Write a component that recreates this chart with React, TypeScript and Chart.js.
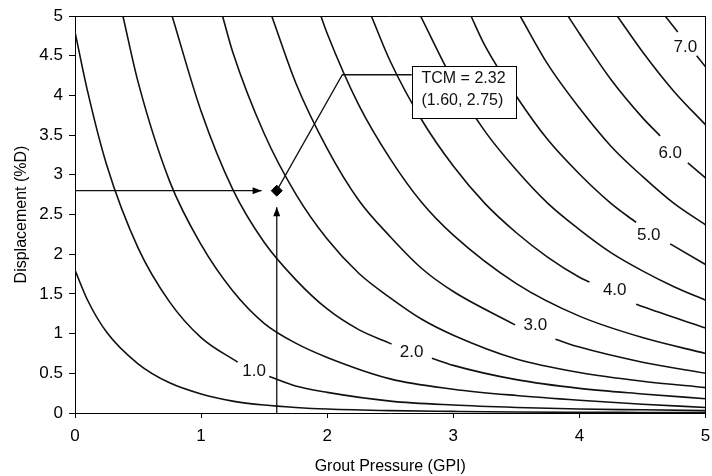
import React, { useEffect, useRef } from 'react';
import { Chart, registerables } from 'chart.js';

Chart.register(...registerables);

// Axis ticks
const xTickValues = [0, 1, 2, 3, 4, 5];
const yTickValues = [0, 0.5, 1, 1.5, 2, 2.5, 3, 3.5, 4, 4.5, 5];

// TCM contour curves (x = Grout Pressure, y = Displacement); null = gap for label
const c05X = [0, 0.1, 0.25, 0.5, 0.75, 1, 1.25, 1.5, 1.75, 2, 2.5, 3, 3.5, 4, 4.5, 5];
const c05Y = [1.8, 1.42, 1.02, 0.62, 0.38, 0.24, 0.15, 0.1, 0.07, 0.05, 0.03, 0.02, 0.012, 0.009, 0.007, 0.005];

const c10X = [0, 0.1, 0.25, 0.5, 0.75, 1, 1.29, 1.42, 1.54, 1.75, 2, 2.5, 3, 3.5, 4, 4.5, 5];
const c10Y = [4.8, 4.05, 3.13, 2.08, 1.4, 0.95, 0.64, null, 0.46, 0.34, 0.26, 0.15, 0.1, 0.07, 0.05, 0.04, 0.03];

const c15X = [0.38, 0.5, 0.75, 1, 1.25, 1.5, 1.75, 2, 2.5, 3, 3.5, 4, 4.5, 5];
const c15Y = [5, 4.17, 2.92, 2.12, 1.54, 1.13, 0.88, 0.7, 0.43, 0.3, 0.22, 0.16, 0.11, 0.07];

const c20X = [0.77, 1, 1.25, 1.5, 1.75, 2, 2.25, 2.51, 2.67, 2.83, 3, 3.5, 4, 4.5, 5];
const c20Y = [5, 3.8, 2.82, 2.15, 1.68, 1.31, 1.05, 0.87, null, 0.69, 0.6, 0.42, 0.31, 0.24, 0.18];

const c25X = [1.17, 1.25, 1.5, 1.75, 2, 2.25, 2.5, 2.75, 3, 3.5, 4, 4.5, 5];
const c25Y = [5, 4.55, 3.52, 2.76, 2.19, 1.76, 1.45, 1.18, 0.98, 0.68, 0.51, 0.4, 0.32];

const c30X = [1.56, 1.75, 2, 2.25, 2.5, 2.75, 3, 3.49, 3.65, 3.81, 4, 4.5, 5];
const c30Y = [5, 4.16, 3.33, 2.68, 2.22, 1.82, 1.53, 1.11, null, 0.93, 0.83, 0.64, 0.5];

const c35X = [1.95, 2, 2.25, 2.5, 2.75, 3, 3.5, 4, 4.5, 5];
const c35Y = [5, 4.78, 3.88, 3.2, 2.65, 2.24, 1.63, 1.22, 0.95, 0.75];

const c40X = [2.35, 2.5, 2.75, 3, 3.25, 3.5, 3.75, 4, 4.08, 4.28, 4.45, 4.5, 5];
const c40Y = [5, 4.43, 3.69, 3.11, 2.64, 2.27, 1.96, 1.71, 1.65, null, 1.37, 1.34, 1.07];

const c45X = [2.74, 3, 3.25, 3.5, 3.75, 4, 4.25, 4.5, 4.75, 5];
const c45Y = [5, 4.18, 3.55, 3.06, 2.64, 2.31, 2.02, 1.79, 1.59, 1.42];

const c50X = [3.14, 3.25, 3.5, 3.75, 4, 4.25, 4.45, 4.55, 4.72, 5];
const c50Y = [5, 4.63, 3.99, 3.44, 3.01, 2.64, 2.4, null, 2.13, 1.87];

const c55X = [3.53, 3.75, 4, 4.25, 4.5, 4.75, 5];
const c55Y = [5, 4.39, 3.84, 3.36, 2.98, 2.64, 2.37];

const c60X = [3.91, 4, 4.25, 4.5, 4.64, 4.72, 4.86, 5];
const c60Y = [5, 4.78, 4.2, 3.72, 3.49, null, 3.15, 2.96];

const c65X = [4.3, 4.5, 4.75, 5];
const c65Y = [5, 4.55, 4.05, 3.63];

const c70X = [4.68, 4.78, 4.84, 4.93, 5];
const c70Y = [5, 4.8, null, 4.5, 4.36];

const curveXs = [c05X, c10X, c15X, c20X, c25X, c30X, c35X, c40X, c45X, c50X, c55X, c60X, c65X, c70X];
const curveYs = [c05Y, c10Y, c15Y, c20Y, c25Y, c30Y, c35Y, c40Y, c45Y, c50Y, c55Y, c60Y, c65Y, c70Y];

// Contour labels
const contourLabelText = ['1.0', '2.0', '3.0', '4.0', '5.0', '6.0', '7.0'];
const contourLabelX = [1.42, 2.67, 3.65, 4.28, 4.55, 4.72, 4.84];
const contourLabelY = [0.53, 0.77, 1.11, 1.55, 2.24, 3.27, 4.61];

// Marked point and guides
const markX = [1.6];
const markY = [2.8];
const hArrowX = [0, 1.48];
const hArrowY = [2.8, 2.8];
const vArrowX = [1.6, 1.6];
const vArrowY = [0, 2.59];
const calloutX = [1.6, 2.12, 2.67];
const calloutY = [2.8, 4.26, 4.26];
const boxX = [2.67, 3.5];
const boxY = [4.37, 3.715];
const boxLines = ['TCM = 2.32', '(1.60, 2.75)'];

const FONT = "'Liberation Sans', Arial, Helvetica, sans-serif";

const pts = (xs: number[], ys: (number | null)[]) => xs.map((x, i) => ({ x, y: ys[i] }));

const annotatePlugin = {
  id: 'annotate',
  afterDatasetsDraw(chart: any) {
    const { ctx, chartArea, scales } = chart;
    const xs = scales.x;
    const ys = scales.y;
    ctx.save();
    // frame (top and right)
    ctx.strokeStyle = '#000';
    ctx.lineWidth = 1;
    ctx.beginPath();
    ctx.moveTo(chartArea.left, Math.round(chartArea.top) + 0.5);
    ctx.lineTo(chartArea.right, Math.round(chartArea.top) + 0.5);
    ctx.moveTo(Math.round(chartArea.right) - 0.5, chartArea.top);
    ctx.lineTo(Math.round(chartArea.right) - 0.5, chartArea.bottom);
    ctx.stroke();

    // arrowheads
    ctx.fillStyle = '#000';
    const hx = xs.getPixelForValue(hArrowX[1]);
    const hy = ys.getPixelForValue(hArrowY[1]);
    ctx.beginPath();
    ctx.moveTo(hx, hy);
    ctx.lineTo(hx - 9, hy - 3.5);
    ctx.lineTo(hx - 9, hy + 3.5);
    ctx.closePath();
    ctx.fill();
    const vx = xs.getPixelForValue(vArrowX[1]);
    const vy = ys.getPixelForValue(vArrowY[1]);
    ctx.beginPath();
    ctx.moveTo(vx, vy);
    ctx.lineTo(vx - 3.5, vy + 9);
    ctx.lineTo(vx + 3.5, vy + 9);
    ctx.closePath();
    ctx.fill();

    // contour labels
    ctx.font = `17px ${FONT}`;
    ctx.fillStyle = '#111';
    ctx.textAlign = 'center';
    ctx.textBaseline = 'middle';
    contourLabelText.forEach((t, i) => {
      ctx.fillText(t, xs.getPixelForValue(contourLabelX[i]), ys.getPixelForValue(contourLabelY[i]));
    });

    // callout box
    const bl = Math.round(xs.getPixelForValue(boxX[0])) + 0.5;
    const br = Math.round(xs.getPixelForValue(boxX[1])) + 0.5;
    const bt = Math.round(ys.getPixelForValue(boxY[0])) + 0.5;
    const bb = Math.round(ys.getPixelForValue(boxY[1])) + 0.5;
    ctx.fillStyle = '#fff';
    ctx.fillRect(bl, bt, br - bl, bb - bt);
    ctx.strokeStyle = '#000';
    ctx.lineWidth = 1;
    ctx.strokeRect(bl, bt, br - bl, bb - bt);
    ctx.font = `16px ${FONT}`;
    ctx.fillStyle = '#111';
    ctx.textAlign = 'left';
    ctx.textBaseline = 'middle';
    ctx.fillText(boxLines[0], bl + 9, bt + 12.5);
    ctx.fillText(boxLines[1], bl + 9, bt + 34.5);
    ctx.restore();
  },
};

export default function App() {
  const ref = useRef<HTMLCanvasElement | null>(null);

  useEffect(() => {
    const canvas = ref.current;
    if (!canvas) return;
    Chart.defaults.font.family = FONT;
    Chart.defaults.color = '#000';

    const curveSets = curveXs.map((xs, i) => ({
      data: pts(xs, curveYs[i]),
      showLine: true,
      borderColor: '#111',
      borderWidth: 1.6,
      pointRadius: 0,
      cubicInterpolationMode: 'monotone',
      spanGaps: false,
      fill: false,
    }));

    const guideStyle = {
      showLine: true,
      borderColor: '#111',
      borderWidth: 1.3,
      pointRadius: 0,
      tension: 0,
      fill: false,
    };

    const chart = new Chart(canvas, {
      type: 'scatter',
      data: {
        datasets: [
          ...curveSets,
          { ...guideStyle, data: pts(hArrowX, hArrowY) },
          { ...guideStyle, data: pts(vArrowX, vArrowY) },
          { ...guideStyle, data: pts(calloutX, calloutY) },
          {
            data: pts(markX, markY),
            showLine: false,
            pointStyle: 'rectRot',
            pointRadius: 5.5,
            pointBackgroundColor: '#000',
            pointBorderColor: '#000',
            pointBorderWidth: 1,
          },
        ] as any,
      },
      options: {
        animation: false,
        responsive: true,
        maintainAspectRatio: false,
        layout: { padding: { top: 16, right: 4, left: 0, bottom: 0 } },
        plugins: { legend: { display: false }, tooltip: { enabled: false } },
        events: [],
        scales: {
          x: {
            type: 'linear',
            min: 0,
            max: 5,
            afterBuildTicks: (s: any) => {
              s.ticks = xTickValues.map((v) => ({ value: v }));
            },
            ticks: {
              color: '#000',
              font: { size: 17 },
              padding: 8,
              maxRotation: 0,
              callback: (v: any) => String(v),
            },
            grid: { display: true, drawOnChartArea: false, drawTicks: true, tickLength: 5, color: '#000' },
            border: { display: true, color: '#000', width: 1 },
            title: {
              display: true,
              text: 'Grout Pressure (GPI)',
              color: '#000',
              font: { size: 16 },
              padding: { top: 0, bottom: 0 },
            },
            afterFit: (s: any) => {
              s.height = 63;
              s.paddingLeft = 0;
              s.paddingRight = 0;
            },
          },
          y: {
            type: 'linear',
            min: 0,
            max: 5,
            afterBuildTicks: (s: any) => {
              s.ticks = yTickValues.map((v) => ({ value: v }));
            },
            ticks: {
              color: '#000',
              font: { size: 17 },
              padding: 6,
              callback: (v: any) => String(v),
            },
            grid: { display: true, drawOnChartArea: false, drawTicks: true, tickLength: 6, color: '#000' },
            border: { display: true, color: '#000', width: 1 },
            title: {
              display: true,
              text: 'Displacement (%D)',
              color: '#000',
              font: { size: 16 },
              padding: { top: 12, bottom: 0 },
            },
            afterFit: (s: any) => {
              s.width = 75;
              s.paddingTop = 0;
              s.paddingBottom = 0;
            },
          },
        },
      } as any,
      plugins: [annotatePlugin],
    });

    return () => chart.destroy();
  }, []);

  return (
    <div style={{ position: 'fixed', left: 0, top: 0, width: 712, height: 476, background: '#fff' }}>
      <canvas ref={ref} />
    </div>
  );
}
